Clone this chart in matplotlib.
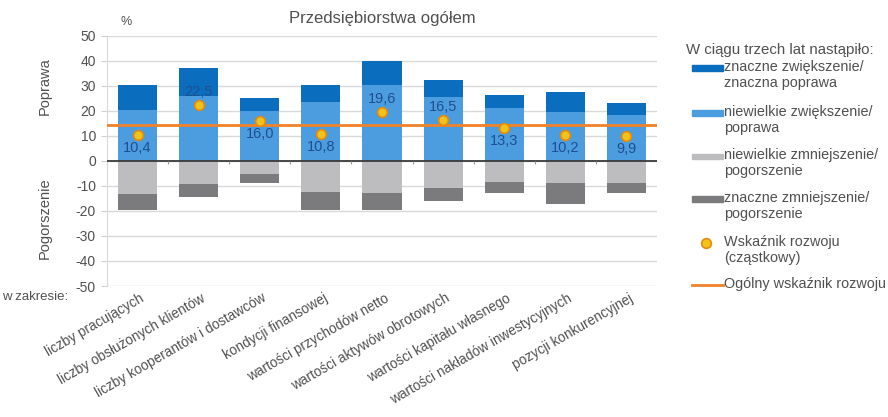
import matplotlib
matplotlib.use("Agg")
import matplotlib.pyplot as plt
import matplotlib.patches as patches
from matplotlib.lines import Line2D
import matplotlib.transforms as mtransforms
import numpy as np

plt.rcParams['font.family'] = ['Liberation Sans', 'DejaVu Sans']
plt.rcParams['axes.unicode_minus'] = False

# Data (%)
categories = [
    'liczby pracujących', 'liczby obsłużonych klientów',
    'liczby kooperantów i dostawców', 'kondycji finansowej',
    'wartości przychodów netto', 'wartości aktywów obrotowych',
    'wartości kapitału własnego', 'wartości nakładów inwestycyjnych',
    'pozycji konkurencyjnej',
]
small_up = [20.2, 25.8, 19.8, 23.4, 30.2, 25.4, 21.0, 19.4, 18.5]
big_up = [10.0, 11.3, 5.2, 6.8, 9.8, 6.9, 5.2, 8.0, 4.5]
small_down = [-13.3, -9.3, -5.4, -12.5, -12.9, -10.9, -8.5, -8.9, -8.9]
big_down = [-6.5, -5.2, -3.5, -7.3, -6.9, -5.2, -4.4, -8.4, -4.0]
partial_index = [10.4, 22.5, 16.0, 10.8, 19.6, 16.5, 13.3, 10.2, 9.9]
overall_index = 14.5

legend_labels = [
    'znaczne zwiększenie/\nznaczna poprawa',
    'niewielkie zwiększenie/\npoprawa',
    'niewielkie zmniejszenie/\npogorszenie',
    'znaczne zmniejszenie/\npogorszenie',
    'Wskaźnik rozwoju\n(cząstkowy)',
    'Ogólny wskaźnik rozwoju',
]

# colours
c_big_up = '#0b6dbd'
c_small_up = '#4c9ddf'
c_small_down = '#bdbdc0'
c_big_down = '#7b7b7d'
c_orange = '#f0822a'
c_dot = '#f3c21a'
c_dot_edge = '#e38a10'
c_text = '#505050'
c_label = '#1f4f8f'

fig = plt.figure(figsize=(8.88, 4.17), dpi=100)
W, H = 888, 417
ax = fig.add_axes([107 / W, 1 - 286 / H, 550 / W, 250 / H])

x = np.arange(len(categories))
bw = 0.64
ax.bar(x, small_up, bw, color=c_small_up, zorder=2)
ax.bar(x, big_up, bw, bottom=small_up, color=c_big_up, zorder=2)
ax.bar(x, small_down, bw, color=c_small_down, zorder=2)
ax.bar(x, big_down, bw, bottom=small_down, color=c_big_down, zorder=2)

ax.axhline(overall_index, color=c_orange, lw=2, zorder=3)
ax.axhline(0, color='#3a3a3a', lw=1.3, zorder=4)
# small category separators on the zero line
ax.vlines(x[:-1] + 0.5, -1.2, 0, color='#9a9a9a', lw=0.8, zorder=4)

ax.plot(x, partial_index, 'o', ms=7, mfc=c_dot, mec=c_dot_edge, mew=1.2, zorder=5)

label_above = [False, True, False, False, True, True, False, False, False]
for xi, v, up in zip(x, partial_index, label_above):
    off = 13 if up else -13
    ax.annotate(f'{v:.1f}'.replace('.', ','), (xi, v), xytext=(0, off),
                textcoords='offset pixels', ha='center', va='center',
                fontsize=10.5, color=c_label, zorder=6)

ax.set_xlim(-0.5, len(categories) - 0.5)
ax.set_ylim(-50, 50)
ax.set_yticks(np.arange(-50, 51, 10))
ax.yaxis.grid(True, color='#d9d9d9', lw=1)
ax.set_axisbelow(True)
ax.tick_params(axis='y', colors='#d0d0d0', labelcolor=c_text, labelsize=10, length=4, pad=4)
ax.set_xticks([])
for s in ['top', 'right', 'bottom']:
    ax.spines[s].set_visible(False)
ax.spines['left'].set_color('#d9d9d9')

# rotated category labels
for xi, lab in zip(x, categories):
    ax.text(xi, -50, lab, rotation=30, rotation_mode='anchor', ha='right', va='top',
            fontsize=9.8, color=c_text,
            transform=ax.transData + mtransforms.ScaledTranslation(2 / 100, -5 / 100, fig.dpi_scale_trans))

ax.set_title('Przedsiębiorstwa ogółem', fontsize=12, color=c_text, pad=9)
fig.text(120 / W, 1 - 22 / H, '%', fontsize=9, color=c_text, ha='left', va='center')
fig.text(2 / W, 1 - 297 / H, 'w zakresie:', fontsize=9.5, color=c_text, ha='left', va='center')

ytrans = mtransforms.blended_transform_factory(fig.transFigure, ax.transData)
ax.text(45 / W, 30, 'Poprawa', rotation=90, ha='center', va='center', fontsize=10.5,
        color=c_text, transform=ytrans)
ax.text(45 / W, -23, 'Pogorszenie', rotation=90, ha='center', va='center', fontsize=10.5,
        color=c_text, transform=ytrans)

# legend drawn by hand, Excel style
fig.text(686 / W, 1 - 50 / H, 'W ciągu trzech lat nastąpiło:', fontsize=10.8,
         color=c_text, ha='left', va='center')
rows = [68, 113, 156, 199, 243, 285]
swatches = [c_big_up, c_small_up, c_small_down, c_big_down]
for yy, col in zip(rows[:4], swatches):
    fig.patches.append(patches.Rectangle((692 / W, 1 - (yy + 2.5) / H), 31 / W, 5 / H,
                                         color=col, transform=fig.transFigure, figure=fig))
for yy, lab in zip(rows, legend_labels):
    fig.text(724 / W, 1 - (yy - 8) / H, lab, fontsize=10.4, color=c_text,
             ha='left', va='top', linespacing=1.2)
fig.add_artist(Line2D([706 / W], [1 - rows[4] / H], marker='o', ms=7, mfc=c_dot,
                      mec=c_dot_edge, mew=1.2, transform=fig.transFigure))
fig.add_artist(Line2D([692 / W, 723 / W], [1 - rows[5] / H] * 2, color=c_orange, lw=2,
                      transform=fig.transFigure))

fig.savefig('out.png', dpi=100)
